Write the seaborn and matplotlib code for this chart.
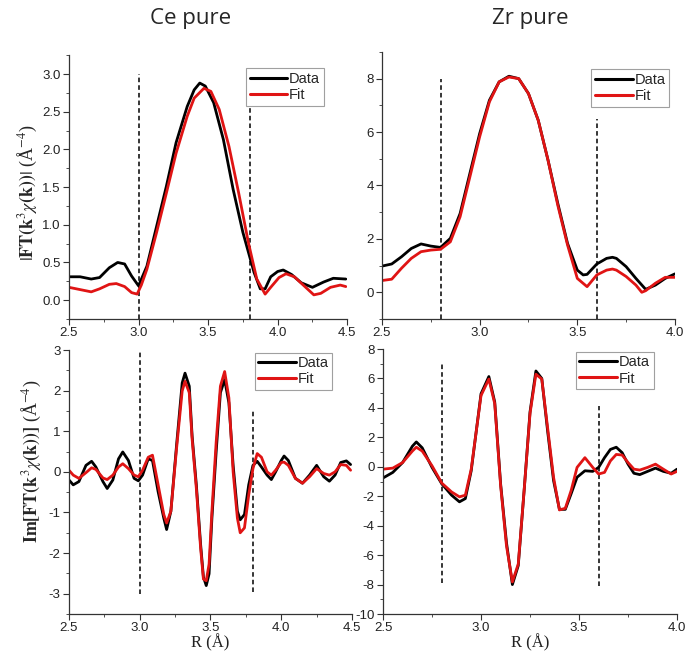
import numpy as np
import matplotlib
matplotlib.use("Agg")
import matplotlib.pyplot as plt
from matplotlib.ticker import MultipleLocator
import seaborn as sns

# ---- Ce pure: magnitude of FT ----
r_ce_mag_data = [2.50, 2.58, 2.66, 2.72, 2.79, 2.85, 2.90, 2.95, 3.00, 3.06, 3.13, 3.20, 3.27,
                 3.35, 3.40, 3.44, 3.48, 3.54, 3.61, 3.68, 3.75, 3.83, 3.875, 3.91, 3.95, 4.00,
                 4.04, 4.10, 4.17, 4.25, 4.33, 4.40, 4.49]
ce_mag_data = [0.31, 0.31, 0.28, 0.30, 0.43, 0.50, 0.48, 0.32, 0.19, 0.45, 0.98, 1.51, 2.09,
               2.57, 2.79, 2.88, 2.84, 2.62, 2.13, 1.47, 0.90, 0.37, 0.15, 0.15, 0.31, 0.38,
               0.40, 0.34, 0.23, 0.17, 0.24, 0.29, 0.28]
r_ce_mag_fit = [2.50, 2.58, 2.66, 2.72, 2.79, 2.84, 2.90, 2.95, 2.99, 3.02, 3.06, 3.13, 3.20,
                3.27, 3.35, 3.40, 3.47, 3.52, 3.58, 3.65, 3.72, 3.79, 3.85, 3.91, 3.95, 4.01,
                4.06, 4.12, 4.19, 4.26, 4.31, 4.38, 4.45, 4.49]
ce_mag_fit = [0.17, 0.14, 0.11, 0.15, 0.21, 0.22, 0.18, 0.10, 0.08, 0.20, 0.41, 0.90, 1.42,
              1.95, 2.44, 2.68, 2.81, 2.77, 2.53, 2.04, 1.42, 0.76, 0.28, 0.08, 0.17, 0.30,
              0.35, 0.31, 0.19, 0.07, 0.09, 0.17, 0.20, 0.18]

# ---- Zr pure: magnitude of FT ----
r_zr_mag_data = [2.50, 2.55, 2.60, 2.65, 2.70, 2.75, 2.80, 2.85, 2.90, 2.95, 3.00, 3.05, 3.10,
                 3.15, 3.20, 3.25, 3.30, 3.35, 3.40, 3.45, 3.50, 3.53, 3.55, 3.60, 3.65, 3.68,
                 3.70, 3.75, 3.80, 3.85, 3.90, 3.95, 4.00]
zr_mag_data = [0.98, 1.06, 1.33, 1.64, 1.81, 1.73, 1.68, 2.02, 2.95, 4.45, 5.94, 7.19, 7.88,
               8.09, 8.00, 7.44, 6.44, 4.95, 3.33, 1.83, 0.83, 0.65, 0.67, 1.06, 1.27, 1.31,
               1.27, 0.96, 0.52, 0.11, 0.27, 0.52, 0.69]
r_zr_mag_fit = [2.50, 2.55, 2.60, 2.65, 2.70, 2.75, 2.80, 2.85, 2.90, 2.95, 3.00, 3.05, 3.10,
                3.15, 3.20, 3.25, 3.30, 3.35, 3.40, 3.45, 3.50, 3.55, 3.60, 3.65, 3.68, 3.70,
                3.75, 3.80, 3.83, 3.85, 3.90, 3.95, 4.00]
zr_mag_fit = [0.44, 0.49, 0.90, 1.27, 1.52, 1.58, 1.61, 1.89, 2.83, 4.32, 5.82, 7.13, 7.88,
              8.06, 8.00, 7.44, 6.44, 4.95, 3.26, 1.77, 0.52, 0.21, 0.65, 0.83, 0.87, 0.83,
              0.59, 0.27, 0.00, 0.06, 0.34, 0.56, 0.56]

# ---- Ce pure: imaginary part ----
r_ce_im = [2.50, 2.53, 2.57, 2.62, 2.66, 2.69, 2.74, 2.77, 2.81, 2.85, 2.88, 2.92, 2.96, 2.99,
           3.02, 3.06, 3.09, 3.13, 3.17, 3.19, 3.22, 3.26, 3.30, 3.32, 3.35, 3.37, 3.40, 3.43,
           3.45, 3.47, 3.49, 3.51, 3.54, 3.57, 3.60, 3.63, 3.66, 3.69, 3.71, 3.74, 3.77, 3.80,
           3.83, 3.86, 3.90, 3.93, 3.96, 4.00, 4.02, 4.05, 4.10, 4.15, 4.20, 4.25, 4.30, 4.34,
           4.38, 4.42, 4.46, 4.49]
ce_im_data = [-0.20, -0.32, -0.24, 0.16, 0.26, 0.12, -0.24, -0.41, -0.20, 0.32, 0.49, 0.28,
              -0.16, -0.22, -0.08, 0.32, 0.28, -0.49, -1.14, -1.42, -0.97, 0.65, 2.19, 2.43,
              2.11, 0.89, -0.32, -1.78, -2.59, -2.80, -2.51, -1.14, 0.49, 1.95, 2.27, 1.70,
              0.16, -0.97, -1.18, -1.05, -0.32, 0.16, 0.26, 0.12, -0.08, -0.19, 0.00, 0.28,
              0.39, 0.28, -0.16, -0.28, -0.08, 0.16, -0.12, -0.23, -0.08, 0.23, 0.27, 0.18]
ce_im_fit = [0.04, -0.08, -0.16, -0.02, 0.10, 0.06, -0.15, -0.19, -0.08, 0.12, 0.20, 0.08,
             -0.08, -0.12, 0.04, 0.36, 0.41, -0.32, -1.05, -1.26, -0.97, 0.57, 1.99, 2.23,
             1.95, 0.81, -0.41, -1.87, -2.64, -2.68, -2.27, -0.97, 0.73, 2.11, 2.47, 1.82,
             0.00, -1.14, -1.50, -1.38, -0.57, 0.08, 0.45, 0.36, 0.00, -0.08, 0.04, 0.23,
             0.24, 0.16, -0.16, -0.28, -0.12, 0.08, -0.04, -0.08, 0.00, 0.18, 0.16, 0.04]

# ---- Zr pure: imaginary part ----
r_zr_im = [2.50, 2.55, 2.60, 2.65, 2.67, 2.70, 2.75, 2.80, 2.85, 2.89, 2.92, 2.95, 3.00, 3.04,
           3.07, 3.10, 3.13, 3.16, 3.19, 3.22, 3.25, 3.28, 3.31, 3.34, 3.37, 3.40, 3.43, 3.46,
           3.49, 3.53, 3.57, 3.60, 3.63, 3.66, 3.69, 3.72, 3.75, 3.78, 3.81, 3.85, 3.89, 3.93,
           3.97, 4.00]
zr_im_data = [-0.76, -0.38, 0.29, 1.40, 1.69, 1.29, -0.04, -1.16, -1.93, -2.38, -2.16, -0.27,
              4.96, 6.13, 4.40, -1.16, -5.16, -8.00, -6.71, -1.60, 3.73, 6.51, 6.00, 2.40,
              -0.93, -2.89, -2.89, -1.82, -0.71, -0.27, -0.31, -0.04, 0.62, 1.18, 1.33, 0.96,
              0.18, -0.44, -0.53, -0.31, -0.09, -0.31, -0.44, -0.16]
zr_im_fit = [-0.16, -0.09, 0.29, 1.07, 1.33, 1.07, 0.07, -1.11, -1.71, -2.04, -1.93, -0.16,
             4.84, 5.96, 4.29, -1.27, -5.38, -7.82, -6.60, -1.60, 3.62, 6.29, 5.96, 2.62,
             -0.71, -2.93, -2.82, -1.60, -0.04, 0.62, -0.04, -0.49, -0.38, 0.40, 0.84, 0.80,
             0.29, -0.16, -0.22, -0.04, 0.18, -0.16, -0.49, -0.31]

titles = ["Ce pure", "Zr pure"]
legend_labels = ["Data", "Fit"]

DATA_COLOR = "black"
FIT_COLOR = "#e01414"
SERIF = ["Liberation Serif", "DejaVu Serif"]

sns.set_style("ticks")
plt.rcParams["font.family"] = ["Liberation Sans", "DejaVu Sans"]
plt.rcParams["mathtext.fontset"] = "stix"

fig = plt.figure(figsize=(6.87, 6.53), dpi=100)

# axes rectangles [left, bottom, width, height] in figure fraction
ax_tl = fig.add_axes([0.1004, 0.5115, 0.4050, 0.4040])
ax_tr = fig.add_axes([0.5560, 0.5115, 0.4265, 0.4090])
ax_bl = fig.add_axes([0.1004, 0.0597, 0.4120, 0.4043])
ax_br = fig.add_axes([0.5575, 0.0597, 0.4280, 0.4058])

panels = [
    (ax_tl, r_ce_mag_data, ce_mag_data, r_ce_mag_fit, ce_mag_fit,
     (2.5, 4.5), (-0.25, 3.25), 0.5, 0.25,
     [(3.0, 3.0), (3.8, 2.55)], (0.915, 0.95)),
    (ax_tr, r_zr_mag_data, zr_mag_data, r_zr_mag_fit, zr_mag_fit,
     (2.5, 4.0), (-1.0, 9.0), 2, 1,
     [(2.8, 8.0), (3.6, 6.5)], (0.98, 0.935)),
    (ax_bl, r_ce_im, ce_im_data, r_ce_im, ce_im_fit,
     (2.5, 4.5), (-3.5, 3.0), 1, 0.5,
     [(3.0, 2.95, -3.0), (3.8, 1.5, -2.95)], (0.93, 0.99)),
    (ax_br, r_zr_im, zr_im_data, r_zr_im, zr_im_fit,
     (2.5, 4.0), (-10.0, 8.0), 2, 1,
     [(2.8, 7.0, -7.9), (3.6, 4.1, -8.1)], (0.92, 0.99)),
]

for (ax, rd, yd, rf, yf, xlim, ylim, ymaj, ymin, vlines, leg_anchor) in panels:
    sns.lineplot(x=rd, y=yd, ax=ax, color=DATA_COLOR, lw=2.0, label=legend_labels[0],
                 sort=False, estimator=None)
    sns.lineplot(x=rf, y=yf, ax=ax, color=FIT_COLOR, lw=2.0, label=legend_labels[1],
                 sort=False, estimator=None)
    for v in vlines:
        x0, ytop = v[0], v[1]
        ybot = v[2] if len(v) > 2 else ylim[0]
        ax.plot([x0, x0], [ybot, ytop], color="black", lw=1.1, ls=(0, (3, 2)), zorder=1)
    ax.set_xlim(*xlim)
    ax.set_ylim(*ylim)
    ax.xaxis.set_major_locator(MultipleLocator(0.5))
    ax.xaxis.set_minor_locator(MultipleLocator(0.25))
    ax.yaxis.set_major_locator(MultipleLocator(ymaj))
    ax.yaxis.set_minor_locator(MultipleLocator(ymin))
    ax.xaxis.set_major_formatter(plt.FormatStrFormatter("%.1f"))
    if ymaj < 1:
        ax.yaxis.set_major_formatter(plt.FormatStrFormatter("%.1f"))
    else:
        ax.yaxis.set_major_formatter(plt.FormatStrFormatter("%d"))
    ax.tick_params(which="major", direction="out", length=4, width=0.8,
                   labelsize=9.5, colors="#333333", labelcolor="#222222", pad=2)
    ax.tick_params(which="minor", direction="out", length=2, width=0.6, colors="#333333")
    sns.despine(ax=ax)
    for s in ("left", "bottom"):
        ax.spines[s].set_linewidth(0.9)
        ax.spines[s].set_color("#333333")
    ax.set_xlabel("")
    ax.set_ylabel("")
    leg = ax.legend(loc="upper right", bbox_to_anchor=leg_anchor, frameon=True,
                    fancybox=False, fontsize=10.5, handlelength=2.6, handletextpad=0.1,
                    borderpad=0.25, labelspacing=0.15, borderaxespad=0.0)
    leg.get_frame().set_edgecolor("#888888")
    leg.get_frame().set_linewidth(0.8)
    for line in leg.get_lines():
        line.set_linewidth(2.2)

# column titles
fig.text(0.277, 0.972, titles[0], ha="center", va="center", fontsize=16,
         family=["Open Sans", "DejaVu Sans"])
fig.text(0.772, 0.972, titles[1], ha="center", va="center", fontsize=16,
         family=["Open Sans", "DejaVu Sans"])

# y labels
ax_tl.set_ylabel(r"$|\mathbf{FT(k}^{3}\chi\mathbf{(k))}|$ (Å$^{-4}$)", fontsize=13,
                 family=SERIF)
ax_tl.yaxis.set_label_coords(-0.108, 0.477)
ax_bl.set_ylabel(r"$\mathbf{Im[FT(k}^{3}\chi\mathbf{(k))]}$ (Å$^{-4}$)", fontsize=13,
                 family=SERIF)
ax_bl.yaxis.set_label_coords(-0.092, 0.58)

# x labels, placed just under the tick labels
for ax in (ax_bl, ax_br):
    ax.set_xlabel("R (Å)", fontsize=12, family=SERIF, color="#222222")
    ax.xaxis.set_label_coords(0.5, -0.076)

fig.savefig("out.png", dpi=100)
